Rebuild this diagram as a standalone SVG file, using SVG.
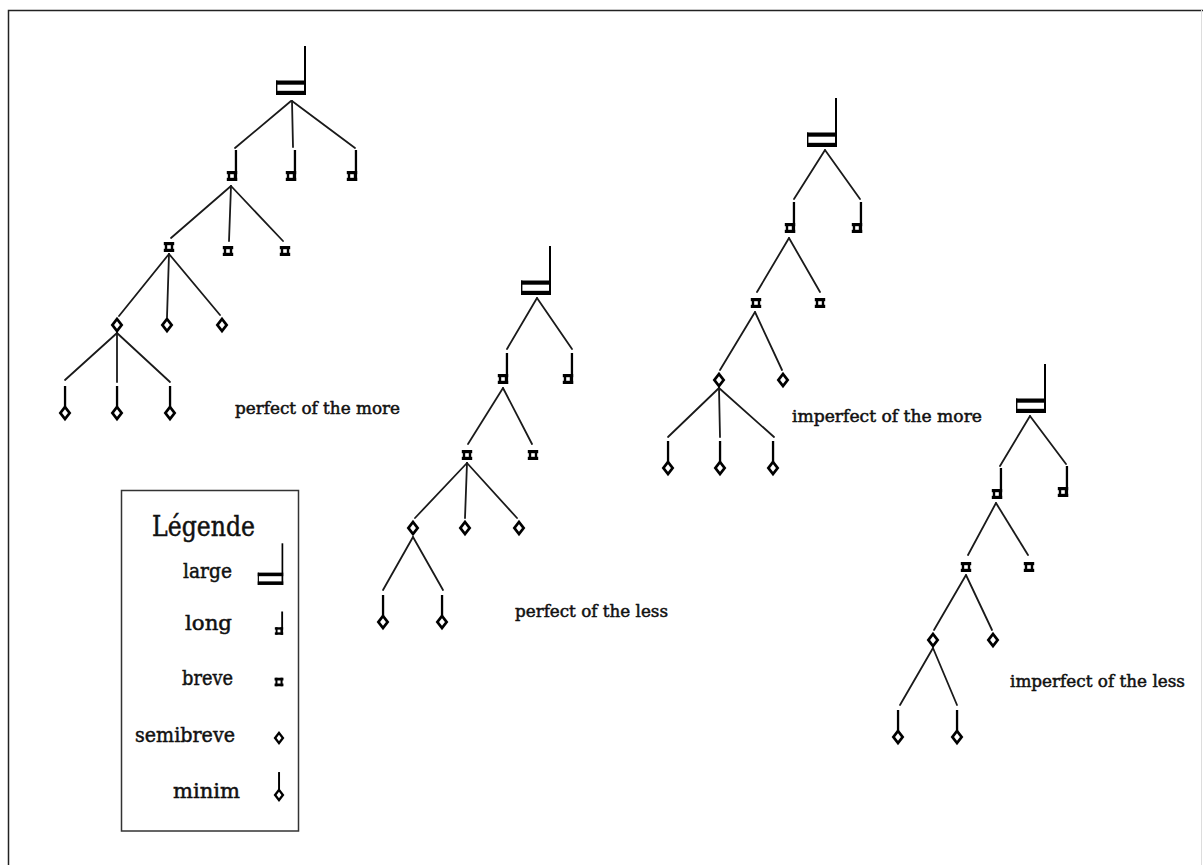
<svg xmlns="http://www.w3.org/2000/svg" width="1203" height="865" viewBox="0 0 1203 865">
<style>
.edge{stroke:#1a1a1a;stroke-width:1.8;fill:none;stroke-linecap:round}
.lbl{font-family:"DejaVu Serif","Liberation Serif",serif;font-size:17px;fill:#111;stroke:#111;stroke-width:0.5}
.leg{font-family:"DejaVu Serif","Liberation Serif",serif;font-size:21px;fill:#111;stroke:#111;stroke-width:0.5;text-anchor:end}
.glyph{fill:#000}
</style>
<defs>
<g id="breve" class="glyph"><rect x="-5.2" y="-5" width="10.4" height="3.2"/><rect x="-5.2" y="1.8" width="10.4" height="3.2"/><rect x="-4.2" y="-5" width="2.4" height="10"/><rect x="1.8" y="-5" width="2.4" height="10"/></g>
<g id="long" class="glyph"><use href="#breve"/><rect x="2.8" y="-26" width="2.3" height="31"/></g>
<g id="semibreve"><polygon points="0,-6 4.6,0 0,6 -4.6,0" fill="#fff" stroke="#000" stroke-width="2.8" stroke-linejoin="miter"/></g>
<g id="minim"><use href="#semibreve"/><rect x="-1.1" y="-27" width="2.3" height="21" fill="#000"/></g>
<g id="large" class="glyph"><rect x="-15" y="-7.5" width="30" height="4.2"/><rect x="-15" y="2.8" width="30" height="4.2"/><rect x="-15" y="-7.5" width="1.4" height="14.5"/><rect x="13" y="-42" width="2" height="49"/></g>
</defs>
<rect width="1203" height="865" fill="#fff"/>
<path d="M8.5,865 V10.5 H1203" fill="none" stroke="#222" stroke-width="1.5"/>
<line x1="1201.5" y1="10" x2="1201.5" y2="865" stroke="#ddd" stroke-width="1"/>

<g id="connectors">
<line class="edge" x1="291" y1="101" x2="235" y2="148"/>
<line class="edge" x1="292" y1="101" x2="293" y2="147"/>
<line class="edge" x1="292" y1="101" x2="355" y2="148"/>
<line class="edge" x1="231" y1="186" x2="171" y2="238"/>
<line class="edge" x1="231" y1="186" x2="229" y2="241"/>
<line class="edge" x1="231" y1="186" x2="283" y2="241"/>
<line class="edge" x1="169" y1="254" x2="119" y2="316"/>
<line class="edge" x1="169" y1="254" x2="167" y2="317"/>
<line class="edge" x1="169" y1="254" x2="220" y2="315"/>
<line class="edge" x1="117" y1="333" x2="65" y2="380"/>
<line class="edge" x1="117" y1="333" x2="117" y2="382"/>
<line class="edge" x1="117" y1="333" x2="170" y2="382"/>
<line class="edge" x1="537" y1="298" x2="507" y2="349"/>
<line class="edge" x1="537" y1="298" x2="572" y2="349"/>
<line class="edge" x1="503" y1="388" x2="468" y2="444"/>
<line class="edge" x1="503" y1="388" x2="532" y2="444"/>
<line class="edge" x1="467" y1="463" x2="415" y2="518"/>
<line class="edge" x1="467" y1="463" x2="465" y2="518"/>
<line class="edge" x1="467" y1="463" x2="517" y2="518"/>
<line class="edge" x1="413" y1="537" x2="383" y2="590"/>
<line class="edge" x1="413" y1="537" x2="443" y2="590"/>
<line class="edge" x1="825" y1="150" x2="794" y2="199"/>
<line class="edge" x1="825" y1="150" x2="860" y2="199"/>
<line class="edge" x1="789" y1="238" x2="757" y2="292"/>
<line class="edge" x1="789" y1="238" x2="820" y2="292"/>
<line class="edge" x1="755" y1="312" x2="720" y2="370"/>
<line class="edge" x1="755" y1="312" x2="782" y2="370"/>
<line class="edge" x1="719" y1="388" x2="668" y2="437"/>
<line class="edge" x1="719" y1="388" x2="720" y2="437"/>
<line class="edge" x1="719" y1="388" x2="774" y2="437"/>
<line class="edge" x1="1030" y1="416" x2="1000" y2="466"/>
<line class="edge" x1="1030" y1="416" x2="1066" y2="464"/>
<line class="edge" x1="996" y1="503" x2="968" y2="555"/>
<line class="edge" x1="996" y1="503" x2="1028" y2="555"/>
<line class="edge" x1="966" y1="575" x2="934" y2="630"/>
<line class="edge" x1="966" y1="575" x2="992" y2="630"/>
<line class="edge" x1="933" y1="648" x2="900" y2="705"/>
<line class="edge" x1="933" y1="648" x2="957" y2="705"/>
</g>

<g id="t1-large"><use href="#large" x="291" y="88"/></g>
<g id="t1-long1"><use href="#long" x="232" y="176"/></g>
<g id="t1-long2"><use href="#long" x="291" y="176"/></g>
<g id="t1-long3"><use href="#long" x="352" y="176"/></g>
<g id="t1-breve1"><use href="#breve" x="169" y="247"/></g>
<g id="t1-breve2"><use href="#breve" x="228" y="251"/></g>
<g id="t1-breve3"><use href="#breve" x="285" y="251"/></g>
<g id="t1-semi1"><use href="#semibreve" x="117" y="325"/></g>
<g id="t1-semi2"><use href="#semibreve" x="167" y="325"/></g>
<g id="t1-semi3"><use href="#semibreve" x="222" y="325"/></g>
<g id="t1-minim1"><use href="#minim" x="65" y="413"/></g>
<g id="t1-minim2"><use href="#minim" x="117" y="413"/></g>
<g id="t1-minim3"><use href="#minim" x="170" y="413"/></g>
<g id="t1-label"><text class="lbl" x="235" y="414" textLength="165" lengthAdjust="spacingAndGlyphs">perfect of the more</text></g>

<g id="t2-large"><use href="#large" x="536" y="288"/></g>
<g id="t2-long1"><use href="#long" x="503" y="379"/></g>
<g id="t2-long2"><use href="#long" x="568" y="379"/></g>
<g id="t2-breve1"><use href="#breve" x="467" y="455"/></g>
<g id="t2-breve2"><use href="#breve" x="533" y="455"/></g>
<g id="t2-semi1"><use href="#semibreve" x="413" y="528"/></g>
<g id="t2-semi2"><use href="#semibreve" x="465" y="528"/></g>
<g id="t2-semi3"><use href="#semibreve" x="519" y="528"/></g>
<g id="t2-minim1"><use href="#minim" x="383" y="622"/></g>
<g id="t2-minim2"><use href="#minim" x="442" y="622"/></g>
<g id="t2-label"><text class="lbl" x="515" y="617" textLength="153" lengthAdjust="spacingAndGlyphs">perfect of the less</text></g>

<g id="t3-large"><use href="#large" x="822" y="140"/></g>
<g id="t3-long1"><use href="#long" x="790" y="228"/></g>
<g id="t3-long2"><use href="#long" x="857" y="228"/></g>
<g id="t3-breve1"><use href="#breve" x="756" y="303"/></g>
<g id="t3-breve2"><use href="#breve" x="820" y="303"/></g>
<g id="t3-semi1"><use href="#semibreve" x="719" y="380"/></g>
<g id="t3-semi2"><use href="#semibreve" x="783" y="380"/></g>
<g id="t3-minim1"><use href="#minim" x="668" y="468"/></g>
<g id="t3-minim2"><use href="#minim" x="720" y="468"/></g>
<g id="t3-minim3"><use href="#minim" x="773" y="468"/></g>
<g id="t3-label"><text class="lbl" x="792" y="422" textLength="190" lengthAdjust="spacingAndGlyphs">imperfect of the more</text></g>

<g id="t4-large"><use href="#large" x="1031" y="406"/></g>
<g id="t4-long1"><use href="#long" x="997" y="494"/></g>
<g id="t4-long2"><use href="#long" x="1063" y="492"/></g>
<g id="t4-breve1"><use href="#breve" x="966" y="567"/></g>
<g id="t4-breve2"><use href="#breve" x="1029" y="567"/></g>
<g id="t4-semi1"><use href="#semibreve" x="933" y="640"/></g>
<g id="t4-semi2"><use href="#semibreve" x="993" y="640"/></g>
<g id="t4-minim1"><use href="#minim" x="898" y="737"/></g>
<g id="t4-minim2"><use href="#minim" x="957" y="737"/></g>
<g id="t4-label"><text class="lbl" x="1010" y="687" textLength="175" lengthAdjust="spacingAndGlyphs">imperfect of the less</text></g>

<g id="legend">
<rect x="121.5" y="490.5" width="177" height="340.5" fill="none" stroke="#333" stroke-width="1.5"/>
<text x="152" y="536" font-family="DejaVu Serif, Liberation Serif, serif" font-size="27" fill="#111" stroke="#111" stroke-width="0.5" textLength="103" lengthAdjust="spacingAndGlyphs">Légende</text>
<text class="leg" x="232" y="578" textLength="49" lengthAdjust="spacingAndGlyphs">large</text>
<text class="leg" x="232" y="630" textLength="47" lengthAdjust="spacingAndGlyphs">long</text>
<text class="leg" x="233" y="685" textLength="51" lengthAdjust="spacingAndGlyphs">breve</text>
<text class="leg" x="235" y="742" textLength="100" lengthAdjust="spacingAndGlyphs">semibreve</text>
<text class="leg" x="240" y="798" textLength="67" lengthAdjust="spacingAndGlyphs">minim</text>
<use href="#large" transform="translate(270.5,579) scale(0.85,0.85)"/>
<use href="#long" transform="translate(279,631) scale(0.8,0.75)"/>
<use href="#breve" transform="translate(279,682) scale(0.85)"/>
<use href="#semibreve" transform="translate(279,738) scale(0.85)"/>
<use href="#minim" transform="translate(279,795) scale(0.85,0.85)"/>
</g>
</svg>
